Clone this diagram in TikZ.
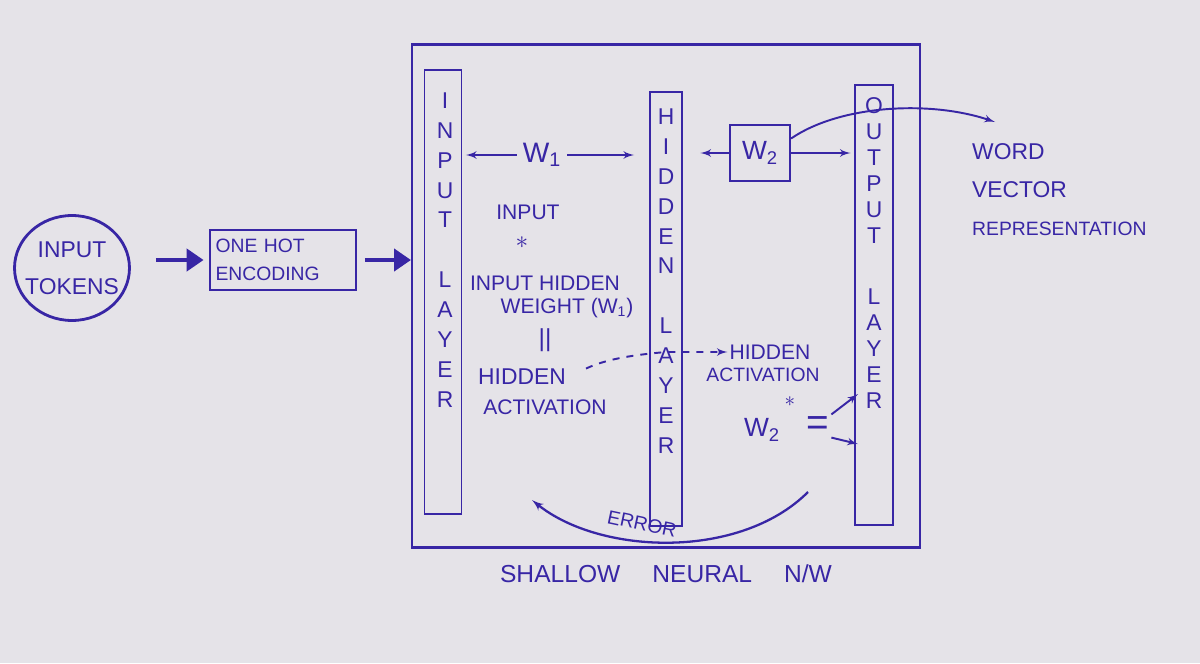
\documentclass[tikz,border=0pt]{standalone}
\usepackage{fontspec}
\setmainfont{Liberation Sans}
\usepackage{xcolor}
\usepackage{tikz}
\usetikzlibrary{shapes.geometric, arrows, arrows.meta, positioning, calc}
\definecolor{ink}{RGB}{56,38,165}
\definecolor{paper}{RGB}{229,227,232}

\begin{document}
\begin{tikzpicture}[x=0.02cm, y=-0.02cm, node distance=1cm, >=latex', every node/.style={text=ink}]
        \tikzstyle{bar_style} = [rectangle, draw=ink, line width=1.1pt, inner sep=0pt]
        \tikzstyle{vtext_style} = [align=center, font=\fontsize{13}{17}\selectfont]
        \tikzstyle{note_style} = [font=\fontsize{12}{15}\selectfont, inner sep=1pt]
        \tikzstyle{thin_arrow} = [draw=ink, line width=1.1pt, ->]
        \tikzstyle{thick_arrow} = [draw=ink, line width=2.6pt, -{Triangle[length=3.4mm, width=4.4mm]}]
        \tikzstyle{dash_arrow} = [draw=ink, line width=1.1pt, dash pattern=on 4pt off 4pt, ->]

        % Paper
        \useasboundingbox (0,0) rectangle (1200,663);
        \fill[paper] (0,0) rectangle (1200,663);

        % Input side
        \node (tokens) [ellipse, draw=ink, line width=1.6pt, inner sep=0pt, text width=1.2cm, minimum width=2.3cm, minimum height=2.1cm, align=center, font=\fontsize{13}{21}\selectfont] at (72,268) {\makebox[1.2cm]{INPUT}\\\makebox[1.2cm]{TOKENS}};
        \node (ohe) [rectangle, draw=ink, line width=1.2pt, text width=2.7cm, minimum height=1.2cm, align=left, font=\fontsize{11}{16}\selectfont] at (283,260) {ONE HOT\\ENCODING};

        % Shallow network frame
        \node (nn) [rectangle, draw=ink, line width=1.2pt, minimum width=10.16cm, minimum height=10.06cm] at (666,296) {};
        \node (nnlabel) [below=0.2cm of nn, font=\fontsize{14}{17}\selectfont] {SHALLOW\hspace{1.3em}NEURAL\hspace{1.3em}N/W};

        % Layers
        \node (inbar) [bar_style, minimum width=0.74cm, minimum height=8.9cm] at (443,292) {};
        \node (hidbar) [bar_style, minimum width=0.64cm, minimum height=8.7cm] at (666,309) {};
        \node (outbar) [bar_style, minimum width=0.76cm, minimum height=8.8cm] at (874,305) {};
        \node (intxt) [vtext_style] at (445,250) {I\\N\\P\\U\\T\\[17pt]L\\A\\Y\\E\\R};
        \node (hidtxt) [vtext_style] at (666,281) {H\\I\\D\\D\\E\\N\\[17pt]L\\A\\Y\\E\\R};
        \node (outtxt) [vtext_style, font=\fontsize{13}{14.8}\selectfont] at (874,253) {O\\U\\T\\P\\U\\T\\[20pt]L\\A\\Y\\E\\R};

        % Weights
        \node (w1) [font=\fontsize{16}{18}\selectfont] at (542,155) {W\textsubscript{1}};
        \node (w2box) [rectangle, draw=ink, line width=1.2pt, minimum width=1.2cm, minimum height=1.12cm, font=\fontsize{15}{18}\selectfont] at (760,153) {W\textsubscript{2}};

        % Left notes
        \node (inp) [note_style] at (528,212) {INPUT};
        \node (star1) [note_style, font=\Large] at (522,243) {$\ast$};
        \node (ihw) [note_style] at (545,283) {INPUT HIDDEN};
        \node (wt) [note_style] at (567,308) {WEIGHT (W\textsubscript{1})};
        \node (eq1) [note_style, font=\fontsize{14}{16}\selectfont] at (545,340) {||};
        \node (hid1) [note_style, font=\fontsize{13}{16}\selectfont] at (522,377) {HIDDEN};
        \node (act1) [note_style] at (545,407) {ACTIVATION};

        % Right notes
        \node (hid2) [note_style] at (770,352) {HIDDEN};
        \node (act2) [note_style, font=\fontsize{11}{14}\selectfont] at (763,375) {ACTIVATION};
        \node (star2) [inner sep=0pt, font=\large] at (790,402) {$\ast$};
        \node (w2b) [note_style, font=\fontsize{15}{18}\selectfont] at (762,430) {W\textsubscript{2}};
        \node (eq2) [note_style, font=\fontsize{22}{22}\selectfont] at (818,426) {=};

        % Output text
        \node (wordvec) [anchor=west, align=left, font=\fontsize{13}{21.6}\selectfont] at (966,190) {WORD\\VECTOR\\{\fontsize{11}{13}\selectfont REPRESENTATION}};

        \coordinate (wordtip) at (995,122);
        \coordinate (cross) at (666,352);
        \coordinate (o1) at (858,394);
        \coordinate (o2) at (858,444);
        \coordinate (errA) at (808,492);
        \coordinate (errB) at (532,500);

        % Arrows: input to network
        \draw [thick_arrow, shorten <=0.5cm, shorten >=0.1cm] (tokens.east |- ohe) -- (ohe);
        \draw [thick_arrow, shorten <=0.15cm] (ohe) -- (nn.west |- ohe);

        % Arrows: weights
        \draw [thin_arrow, shorten >=2pt] (w1.west) -- (inbar.east |- w1.west);
        \draw [thin_arrow, shorten >=0.3cm] (w1.east) -- (hidbar.west |- w1.east);
        \draw [thin_arrow, shorten >=0.35cm] (w2box.west) -- (hidbar.east |- w2box.west);
        \draw [thin_arrow, shorten >=2pt] (w2box.east) -- (outbar.west |- w2box.east);
        \draw [thin_arrow] (w2box.25) .. controls (840,105) and (930,100) .. (wordtip);

        % Hidden activation flow
        \draw [dash_arrow, shorten <=0.4cm] (hid1.east) to[out=25, in=185] (cross) -- (hid2.west);
        \draw [thin_arrow] (eq2.north east) -- (o1);
        \draw [thin_arrow] (eq2.south east) -- (o2);

        % Error back to input
        \draw [thin_arrow, line width=1.3pt] (errA) .. controls (740,560) and (600,555) .. (errB);
        \node (err) [font=\fontsize{11}{13}\selectfont, rotate=-12] at (642,524) {ERROR};
    \end{tikzpicture}
\end{document}
